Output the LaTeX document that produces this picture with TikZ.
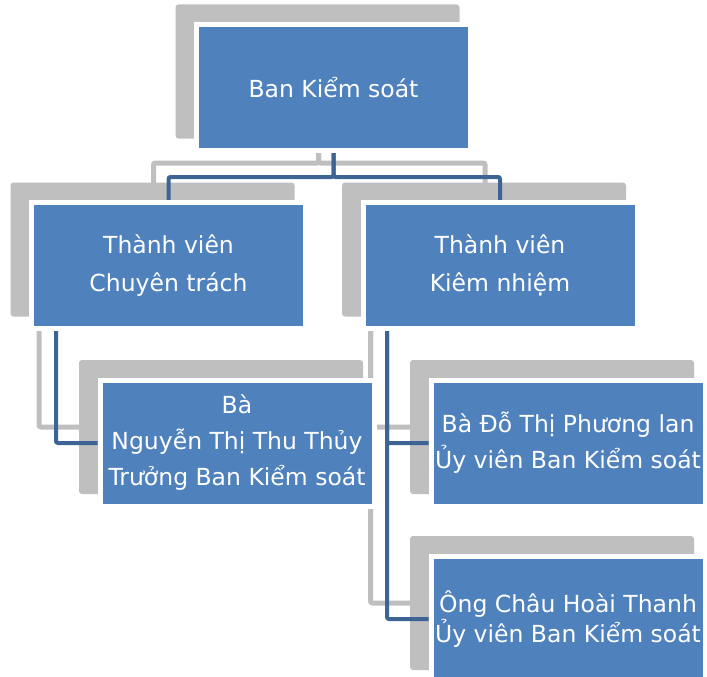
\documentclass[tikz,border=0pt]{standalone}
\usepackage{fontspec}
\setmainfont{DejaVu Sans}
\usepackage{xcolor}
\usetikzlibrary{calc, backgrounds}

\definecolor{boxblue}{HTML}{4F81BD}
\definecolor{lineblue}{HTML}{3C6494}
\definecolor{shadegray}{HTML}{BFBFBF}

\tikzset{
    unit/.style={draw=white, line width=5pt, fill=boxblue, text=white,
        minimum width=274pt, minimum height=126pt, inner sep=0pt,
        align=center, font=\fontsize{23.5}{38}\selectfont},
    shade/.style={fill=shadegray, rounded corners=3pt},
    bluelink/.style={draw=lineblue, line width=4pt, rounded corners=2pt},
    graylink/.style={draw=shadegray, line width=5pt, rounded corners=2pt}
}

\begin{document}
\begin{tikzpicture}[x=1pt, y=-1pt]
    \useasboundingbox (0, 0) rectangle (707, 677);

    \node[unit] (bks) at (333.5, 87.5) {Ban Kiểm soát};

    \node[unit] (ct) at (168.5, 265.5) {Thành viên\\Chuyên trách};
    \node[unit] (kn) at (500, 265.5) {Thành viên\\Kiêm nhiệm};

    \node[unit, font=\fontsize{23.5}{36}\selectfont] (tt) at (237, 443) {Bà\\Nguyễn Thị Thu Thủy\\Trưởng Ban Kiểm soát};
    \node[unit, font=\fontsize{23.5}{36}\selectfont] (dtpl) at (568, 443) {Bà Đỗ Thị Phương lan\\Ủy viên Ban Kiểm soát};
    \node[unit, font=\fontsize{23.5}{25}\selectfont] (cht) at (568, 619) {Ông Châu Hoài Thanh\\Ủy viên Ban Kiểm soát};

    \begin{scope}[on background layer]
        % gray shadows
        \fill[shade] ($(bks.north west)+(-18.5,-17.5)$) rectangle ($(bks.south east)+(-13.5,-14.5)$);
        \fill[shade] ($(ct.north west)+(-18.5,-17.5)$) rectangle ($(ct.south east)+(-13.5,-14.5)$);
        \fill[shade] ($(kn.north west)+(-18.5,-17.5)$) rectangle ($(kn.south east)+(-13.5,-14.5)$);
        \fill[shade] ($(tt.north west)+(-18.5,-17.5)$) rectangle ($(tt.south east)+(-13.5,-14.5)$);
        \fill[shade] ($(dtpl.north west)+(-18.5,-17.5)$) rectangle ($(dtpl.south east)+(-13.5,-14.5)$);
        \fill[shade] ($(cht.north west)+(-18.5,-17.5)$) rectangle ($(cht.south east)+(-13.5,-14.5)$);

        \draw[graylink] ($(bks.south)+(-15,-10)$) -- ++(0, 20) -| ($(ct.north)+(-15,-5)$);
        \draw[graylink] ($(bks.south)+(-15,-10)$) -- ++(0, 20) -| ($(kn.north)+(-15,-5)$);
        \draw[graylink] ($(ct.south west)+(10,0)$) |- ($(tt.west)+(-10,-16)$);
        \draw[graylink] ($(kn.south west)+(10,0)$) |- ($(dtpl.west)+(-10,-16)$);
        \draw[graylink] ($(kn.south west)+(10,0)$) |- ($(cht.west)+(-10,-16)$);

        % blue links
        \draw[bluelink] (bks.south) -- ++(0, 24) -| (ct.north);
        \draw[bluelink] (bks.south) -- ++(0, 24) -| (kn.north);
        \draw[bluelink] ($(ct.south west)+(27,0)$) |- (tt.west);
        \draw[bluelink] ($(kn.south west)+(26.5,0)$) |- (dtpl.west);
        \draw[bluelink] ($(kn.south west)+(26.5,0)$) |- (cht.west);
    \end{scope}
\end{tikzpicture}
\end{document}
